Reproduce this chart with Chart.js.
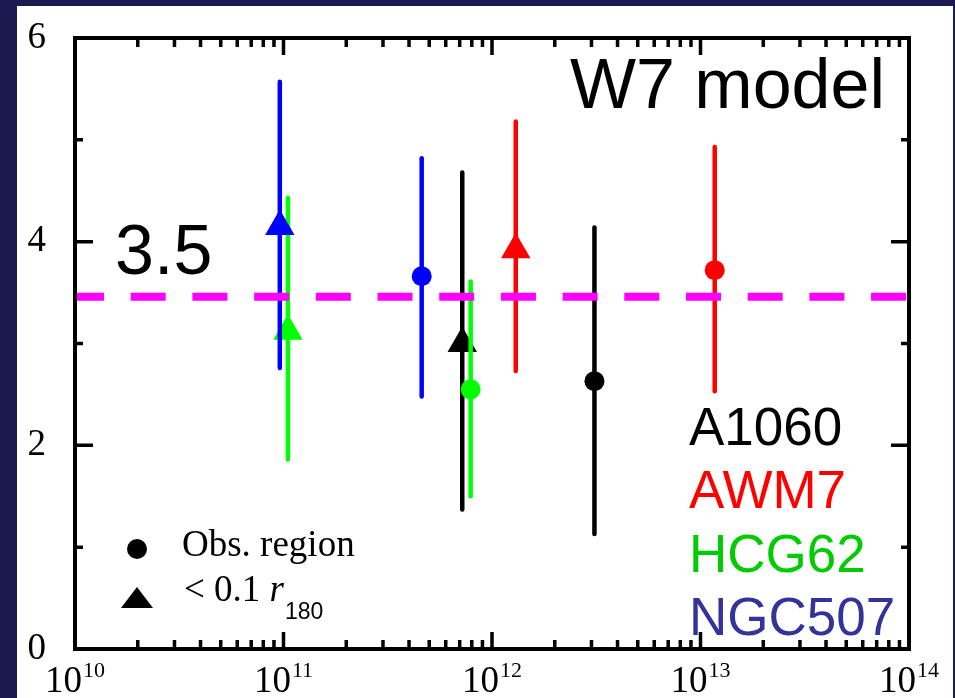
<!DOCTYPE html>
<html>
<head>
<meta charset="utf-8">
<script src="https://cdn.jsdelivr.net/npm/chart.js@4/dist/chart.umd.min.js"></script>
<style>
  html, body { margin: 0; padding: 0; background: #1b1a50; }
  #chart { display: block; }
</style>
</head>
<body>
<canvas id="chart" width="955" height="698"></canvas>
<script>
// clusters, in drawing order from bottom to top
const clusters = ['A1060', 'AWM7', 'HCG62', 'NGC507'];
const markColors = ['#000000', '#ff0000', '#00ff00', '#0000ff'];
const textColors = ['#000000', '#ff0000', '#00cc00', '#333399'];

// observed region (circles)
const obsMass = [3.1e12, 1.17e13, 7.9e11, 4.6e11];
const obsRatio = [2.63, 3.72, 2.55, 3.66];
const obsLow = [1.13, 2.53, 1.50, 2.48];
const obsHigh = [4.14, 4.93, 3.61, 4.82];

// < 0.1 r180 (triangles)
const coreMass = [7.2e11, 1.3e12, 1.05e11, 9.6e10];
const coreRatio = [3.00, 3.92, 3.12, 4.15];
const coreLow = [1.37, 2.73, 1.86, 2.76];
const coreHigh = [4.68, 5.18, 4.43, 5.57];

// reference level
const refRatio = 3.46;
const refLabel = '3.5';

// axes
const xExponents = [10, 11, 12, 13, 14];
const yTicks = [0, 2, 4, 6];
const yMinorTicks = [1, 3, 5];

const datasets = [];

datasets.push({
  type: 'line',
  data: [{ x: 1e10, y: refRatio }, { x: 1e14, y: refRatio }],
  borderColor: '#ff00ff',
  borderWidth: 8,
  borderDash: [35, 26.7],
  borderDashOffset: 6,
  pointRadius: 0,
  order: 0,
});

clusters.forEach((name, i) => {
  const base = (clusters.length - i) * 10;
  [
    [obsMass, obsLow, obsHigh],
    [coreMass, coreLow, coreHigh],
  ].forEach(([m, lo, hi]) => {
    datasets.push({
      type: 'line',
      data: [{ x: m[i], y: lo[i] }, { x: m[i], y: hi[i] }],
      borderColor: markColors[i],
      borderWidth: 4.5,
      borderCapStyle: 'round',
      pointRadius: 0,
      order: base + 2,
    });
  });
  datasets.push({
    type: 'scatter',
    data: [{ x: obsMass[i], y: obsRatio[i] }],
    backgroundColor: markColors[i],
    borderWidth: 0,
    pointStyle: 'circle',
    pointRadius: 10,
    order: base + 1,
  });
  datasets.push({
    type: 'scatter',
    data: [{ x: coreMass[i], y: coreRatio[i] }],
    backgroundColor: markColors[i],
    borderWidth: 0,
    pointStyle: 'triangle',
    pointRadius: 17,
    order: base + 1,
  });
});

const serif = '"Liberation Serif", "Times New Roman", serif';
const sans = '"Liberation Sans", Arial, sans-serif';

const framePlugin = {
  id: 'frame',
  beforeDraw(chart) {
    const c = chart.ctx;
    c.save();
    c.fillStyle = '#1b1a50';
    c.fillRect(0, 0, chart.width, chart.height);
    c.fillStyle = '#ffffff';
    c.fillRect(17, 6, 936, 692);
    c.restore();
  },
  afterDatasetsDraw(chart) {
    const c = chart.ctx;
    const { left, right, top, bottom } = chart.chartArea;
    const xs = chart.scales.x;
    const ys = chart.scales.y;
    c.save();
    c.strokeStyle = '#000';
    c.fillStyle = '#000';

    // ticks, inward on all four sides
    c.lineWidth = 3.5;
    c.beginPath();
    for (let e = xExponents[0]; e < xExponents[xExponents.length - 1]; e++) {
      for (let k = 2; k <= 9; k++) {
        const px = xs.getPixelForValue(k * Math.pow(10, e));
        c.moveTo(px, bottom); c.lineTo(px, bottom - 9);
        c.moveTo(px, top); c.lineTo(px, top + 9);
      }
    }
    xExponents.forEach((e) => {
      const px = xs.getPixelForValue(Math.pow(10, e));
      c.moveTo(px, bottom); c.lineTo(px, bottom - 17);
      c.moveTo(px, top); c.lineTo(px, top + 17);
    });
    yTicks.forEach((v) => {
      const py = ys.getPixelForValue(v);
      c.moveTo(left, py); c.lineTo(left + 18, py);
      c.moveTo(right, py); c.lineTo(right - 18, py);
    });
    yMinorTicks.forEach((v) => {
      const py = ys.getPixelForValue(v);
      c.moveTo(left, py); c.lineTo(left + 8, py);
      c.moveTo(right, py); c.lineTo(right - 8, py);
    });
    c.stroke();

    // frame
    c.lineWidth = 4;
    c.strokeRect(left, top, right - left, bottom - top);

    // y tick labels
    c.font = '37px ' + serif;
    c.textAlign = 'right';
    c.textBaseline = 'middle';
    yTicks.forEach((v) => {
      c.fillText(String(v), 46, ys.getPixelForValue(v));
    });

    // x tick labels, 10 with superscript exponent
    c.textAlign = 'left';
    c.textBaseline = 'alphabetic';
    xExponents.forEach((e) => {
      const px = xs.getPixelForValue(Math.pow(10, e));
      c.font = '37px ' + serif;
      const wb = c.measureText('10').width;
      c.font = '22px ' + serif;
      const ws = c.measureText(String(e)).width;
      const x0 = px - (wb + ws + 1) / 2;
      c.font = '37px ' + serif;
      c.fillText('10', x0, 692);
      c.font = '22px ' + serif;
      c.fillText(String(e), x0 + wb + 1, 677);
    });

    // annotations
    c.font = '70px ' + sans;
    c.textAlign = 'right';
    c.fillText('W7 model', 885, 108);
    c.textAlign = 'left';
    c.fillText(refLabel, 115, 274);

    c.font = '53px ' + sans;
    const labelBase = [445, 508, 572, 635];
    clusters.forEach((name, i) => {
      c.fillStyle = textColors[i];
      c.fillText(name, 689, labelBase[i]);
    });

    // marker key
    c.fillStyle = '#000';
    c.beginPath();
    c.arc(137, 549, 10, 0, Math.PI * 2);
    c.fill();
    c.beginPath();
    c.moveTo(137, 587);
    c.lineTo(153, 608);
    c.lineTo(121, 608);
    c.closePath();
    c.fill();

    c.font = '37px ' + serif;
    c.fillText('Obs. region', 182, 556);
    const t1 = '< 0.1 ';
    c.fillText(t1, 184, 601);
    let x = 184 + c.measureText(t1).width;
    c.font = 'italic 37px ' + serif;
    c.fillText('r', x, 601);
    x += c.measureText('r').width + 1;
    c.font = '23px ' + sans;
    c.fillText('180', x, 619);

    c.restore();
  },
};

new Chart(document.getElementById('chart'), {
  type: 'scatter',
  data: { datasets },
  options: {
    responsive: false,
    animation: false,
    layout: { padding: { left: 75, right: 46, top: 38, bottom: 49 } },
    plugins: {
      legend: { display: false },
      tooltip: { enabled: false },
    },
    scales: {
      x: { type: 'logarithmic', min: 1e10, max: 1e14, display: false },
      y: { type: 'linear', min: 0, max: 6, display: false },
    },
  },
  plugins: [framePlugin],
});
</script>
</body>
</html>
